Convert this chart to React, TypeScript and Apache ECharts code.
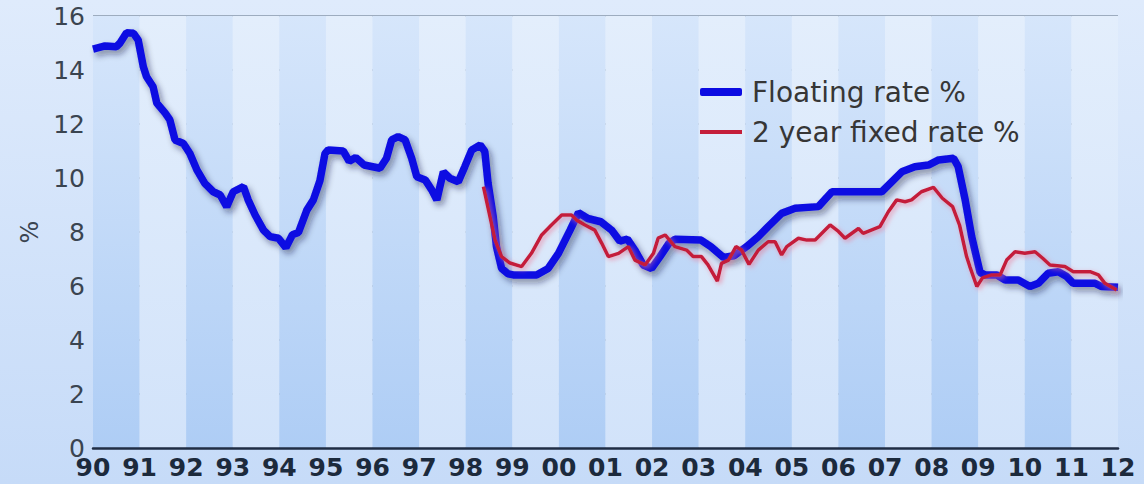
import React, { useEffect, useRef } from "react";
import * as echarts from "echarts";

// Floating rate % (year as decimal, value)
const floatingYears = [
  1990.0, 1990.26, 1990.5, 1990.58, 1990.72, 1990.87, 1990.97, 1991.08, 1991.15, 1991.29,
  1991.37, 1991.55, 1991.65, 1991.76, 1991.94, 1992.08, 1992.23, 1992.4, 1992.58, 1992.73,
  1992.87, 1993.01, 1993.23, 1993.33, 1993.48, 1993.66, 1993.8, 1993.98, 1994.14, 1994.28,
  1994.41, 1994.59, 1994.73, 1994.87, 1994.98, 1995.05, 1995.37, 1995.5, 1995.64, 1995.82,
  1996.16, 1996.3, 1996.41, 1996.55, 1996.7, 1996.84, 1996.95, 1997.13, 1997.27, 1997.38,
  1997.52, 1997.66, 1997.84, 1997.98, 1998.13, 1998.31, 1998.41, 1998.48, 1998.59, 1998.66,
  1998.77, 1998.91, 1999.02, 1999.52, 1999.77, 1999.99, 2000.24, 2000.42, 2000.62, 2000.9,
  2001.13, 2001.31, 2001.47, 2001.64, 2001.81, 2001.99, 2002.17, 2002.36, 2002.49, 2003.05,
  2003.26, 2003.53, 2003.76, 2004.03, 2004.28, 2004.49, 2004.78, 2005.07, 2005.57, 2005.86,
  2006.93, 2007.36, 2007.64, 2007.93, 2008.15, 2008.47, 2008.57, 2008.72, 2008.86, 2009.04,
  2009.15, 2009.4, 2009.58, 2009.86, 2010.11, 2010.29, 2010.5, 2010.72, 2010.9, 2011.04,
  2011.51, 2011.65, 2012.0,
];
const floatingRates = [
  14.77, 14.89, 14.86, 15.0, 15.38, 15.36, 15.11, 14.12, 13.75, 13.38,
  12.77, 12.4, 12.15, 11.41, 11.28, 10.91, 10.3, 9.8, 9.49, 9.37,
  8.94, 9.49, 9.68, 9.19, 8.63, 8.07, 7.83, 7.77, 7.42, 7.9,
  7.98, 8.81, 9.19, 9.9, 10.91, 11.04, 11.0, 10.62, 10.76, 10.48,
  10.36, 10.73, 11.41, 11.53, 11.41, 10.73, 10.05, 9.93, 9.56, 9.19,
  10.23, 9.99, 9.86, 10.42, 11.04, 11.22, 10.98, 9.8, 8.57, 7.46,
  6.65, 6.45, 6.41, 6.41, 6.65, 7.21, 8.07, 8.72, 8.5, 8.38,
  8.07, 7.66, 7.74, 7.3, 6.78, 6.65, 7.09, 7.58, 7.73, 7.7,
  7.46, 7.06, 7.12, 7.46, 7.83, 8.2, 8.69, 8.88, 8.94, 9.49,
  9.49, 10.23, 10.42, 10.48, 10.67, 10.73, 10.42, 9.19, 7.83, 6.5,
  6.41, 6.41, 6.22, 6.22, 5.98, 6.1, 6.47, 6.53, 6.35, 6.1,
  6.1, 5.98, 5.95,
];

// 2 year fixed rate %
const fixedYears = [
  1998.38, 1998.63, 1998.77, 1998.95, 1999.2, 1999.41, 1999.63, 1999.84, 2000.06, 2000.27,
  2000.38, 2000.56, 2000.77, 2000.92, 2001.06, 2001.28, 2001.49, 2001.63, 2001.85, 2002.03,
  2002.13, 2002.28, 2002.49, 2002.74, 2002.88, 2003.06, 2003.2, 2003.4, 2003.49, 2003.64,
  2003.8, 2003.92, 2004.08, 2004.28, 2004.49, 2004.64, 2004.78, 2004.89, 2005.14, 2005.32,
  2005.5, 2005.82, 2006.0, 2006.14, 2006.43, 2006.53, 2006.89, 2007.07, 2007.25, 2007.43,
  2007.57, 2007.78, 2008.04, 2008.23, 2008.45, 2008.6, 2008.75, 2008.82, 2008.97, 2009.09,
  2009.29, 2009.47, 2009.61, 2009.79, 2010.0, 2010.22, 2010.39, 2010.54, 2010.86, 2011.04,
  2011.4, 2011.58, 2011.72, 2011.97,
];
const fixedRates = [
  9.68, 7.7, 7.09, 6.85, 6.72, 7.21, 7.89, 8.26, 8.63, 8.63,
  8.44, 8.26, 8.07, 7.58, 7.09, 7.21, 7.46, 6.96, 6.78, 7.21,
  7.77, 7.89, 7.46, 7.33, 7.09, 7.09, 6.78, 6.18, 6.84, 6.96,
  7.46, 7.33, 6.8, 7.33, 7.64, 7.64, 7.15, 7.46, 7.77, 7.7,
  7.7, 8.26, 8.02, 7.77, 8.13, 7.95, 8.2, 8.75, 9.19, 9.12,
  9.19, 9.49, 9.65, 9.25, 8.94, 8.25, 7.09, 6.72, 5.98, 6.3,
  6.41, 6.41, 6.96, 7.27, 7.21, 7.27, 7.02, 6.78, 6.72, 6.53,
  6.53, 6.41, 6.1, 5.85,
];

const seriesNames = ["Floating rate %", "2 year fixed rate %"];
const yearStart = 1990;
const yearEnd = 2012;

const FONT = "'DejaVu Sans', Verdana, sans-serif";
const BLUE = "#0b0be2";
const RED = "#c41e3a";

function vGrad(top: string, bottom: string) {
  return new echarts.graphic.LinearGradient(0, 0, 0, 1, [
    { offset: 0, color: top },
    { offset: 1, color: bottom },
  ]);
}

const legendText = {
  fontFamily: FONT,
  fontSize: 28,
  color: "#363636",
  padding: [0, 0, 0, 5],
};

export default function App() {
  const ref = useRef<HTMLDivElement>(null);

  useEffect(() => {
    if (!ref.current) return;
    const chart = echarts.init(ref.current, null, { renderer: "svg" });
    const floatingData = floatingYears.map((x, i) => [x, floatingRates[i]]);
    const fixedData = fixedYears.map((x, i) => [x, fixedRates[i]]);

    chart.setOption({
      animation: false,
      backgroundColor: vGrad("#dfebfc", "#c6dbf8"),
      grid: { left: 93, right: 26, top: 16, bottom: 36, containLabel: false },
      legend: [
        {
          orient: "vertical",
          left: 695,
          top: 73,
          itemWidth: 42,
          itemHeight: 8,
          icon: "roundRect",
          data: [seriesNames[0]],
          textStyle: legendText,
        },
        {
          orient: "vertical",
          left: 695,
          top: 113,
          itemWidth: 42,
          itemHeight: 4,
          icon: "rect",
          data: [seriesNames[1]],
          textStyle: legendText,
        },
      ],
      xAxis: {
        type: "value",
        min: yearStart,
        max: yearEnd,
        interval: 1,
        axisLine: { show: true, lineStyle: { color: "#1f2d44", width: 2.5 } },
        axisTick: { show: false },
        splitLine: { show: false },
        splitArea: {
          show: true,
          areaStyle: {
            color: [vGrad("#d6e6fb", "#aecdf5"), vGrad("#e3eefc", "#d2e3fa")],
          },
        },
        axisLabel: {
          margin: 7,
          fontFamily: FONT,
          fontSize: 25,
          fontWeight: "bold",
          color: "#1c2a3c",
          formatter: (v: number) => String(Math.round(v) % 100).padStart(2, "0"),
        },
      },
      yAxis: {
        type: "value",
        min: 0,
        max: 16,
        interval: 2,
        name: "%",
        nameLocation: "middle",
        nameGap: 50,
        nameRotate: 90,
        nameTextStyle: { fontFamily: FONT, fontSize: 24, color: "#3a4450" },
        axisLine: { show: false },
        axisTick: { show: false },
        splitLine: { show: true, lineStyle: { color: "#8797ab", width: 1.5 } },
        axisLabel: {
          margin: 8,
          fontFamily: FONT,
          fontSize: 25,
          color: "#3a4450",
        },
      },
      series: [
        {
          name: seriesNames[0],
          type: "line",
          data: floatingData,
          showSymbol: false,
          symbol: "none",
          lineStyle: {
            color: BLUE,
            width: 7.5,
            shadowColor: "rgba(20,30,60,0.45)",
            shadowBlur: 6,
            shadowOffsetX: 3,
            shadowOffsetY: 4,
          },
          itemStyle: { color: BLUE },
          z: 2,
        },
        {
          name: seriesNames[1],
          type: "line",
          data: fixedData,
          showSymbol: false,
          symbol: "none",
          lineStyle: {
            color: RED,
            width: 3.5,
            shadowColor: "rgba(235,120,150,0.7)",
            shadowBlur: 5,
            shadowOffsetX: 2,
            shadowOffsetY: 2,
          },
          itemStyle: { color: RED },
          z: 3,
        },
      ],
    });
    return () => chart.dispose();
  }, []);

  return (
    <div
      ref={ref}
      style={{ position: "absolute", left: 0, top: 0, width: 1144, height: 484 }}
    />
  );
}
